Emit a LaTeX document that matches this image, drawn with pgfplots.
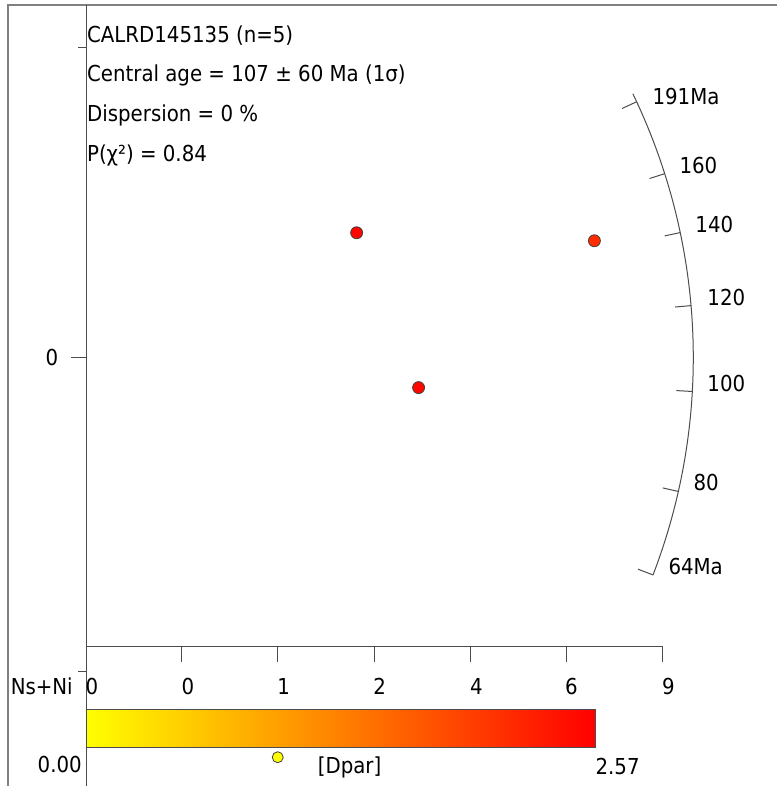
\documentclass[border=0pt]{standalone}
\usepackage{pgfplots}
\pgfplotsset{compat=1.18}
\usepackage{fontspec}
\setmainfont{DejaVu Sans Condensed}
\newcommand\f{\fontsize{22}{26}\selectfont}

\begin{document}
\begin{tikzpicture}
\begin{axis}[
  width=778pt, height=787pt, scale only axis,
  xmin=0, xmax=778, ymin=0, ymax=787,
  hide axis, clip=false,
  colormap={yr}{rgb255=(255,255,0) rgb255=(255,0,0)},
  point meta min=0, point meta max=2.57,
]
% page extent
\path (axis cs:0,0) rectangle (axis cs:778,787);
% outer frame
\draw[black!50, line width=1.6pt] (axis cs:8,0) -- (axis cs:8,782) -- (axis cs:778,782);
% vertical axis
\draw[black!70, line width=1pt] (axis cs:87,782) -- (axis cs:87,0);
\draw[black!70, line width=1pt] (axis cs:78,739) -- (axis cs:87,739);
\draw[black!70, line width=1pt] (axis cs:71,429) -- (axis cs:87,429);
\draw[black!70, line width=1pt] (axis cs:78,115) -- (axis cs:87,115);
\node[font=\f, text=black] at (axis cs:52,429) {0};
% horizontal axis
\draw[black!70, line width=1pt] (axis cs:87,140) -- (axis cs:663,140);
\draw[black!70, line width=1pt] (axis cs:182,140) -- (axis cs:182,124);
\draw[black!70, line width=1pt] (axis cs:278,140) -- (axis cs:278,124);
\draw[black!70, line width=1pt] (axis cs:375,140) -- (axis cs:375,124);
\draw[black!70, line width=1pt] (axis cs:471,140) -- (axis cs:471,124);
\draw[black!70, line width=1pt] (axis cs:567,140) -- (axis cs:567,124);
\draw[black!70, line width=1pt] (axis cs:663,140) -- (axis cs:663,124);
\node[font=\f] at (axis cs:92,100) {0};
\node[font=\f] at (axis cs:188,100) {0};
\node[font=\f] at (axis cs:284,100) {1};
\node[font=\f] at (axis cs:380,100) {2};
\node[font=\f] at (axis cs:477,100) {4};
\node[font=\f] at (axis cs:572,100) {6};
\node[font=\f] at (axis cs:669,100) {9};
\node[font=\f, anchor=east, inner sep=0pt] at (axis cs:73,100) {Ns+Ni};
% header text
\node[font=\f, anchor=base west, inner sep=0pt] at (axis cs:87,744) {CALRD145135 (n=5)};
\node[font=\f, anchor=base west, inner sep=0pt] at (axis cs:87,705) {Central age = 107 ± 60 Ma (1σ)};
\node[font=\f, anchor=base west, inner sep=0pt] at (axis cs:87,665) {Dispersion = 0 \%};
\node[font=\f, anchor=base west, inner sep=0pt] at (axis cs:87,625) {P(χ²) = 0.84};
% radial age scale
\draw[black!70, line width=1pt] (axis cs:87,429) ++(-21:607pt) arc[start angle=-21, end angle=25.8, radius=607pt];
\draw[black!70, line width=1pt] (axis cs:87,429) ++(24.96:591pt) -- ++(24.96:16pt);
\draw[black!70, line width=1pt] (axis cs:87,429) ++(17.66:591pt) -- ++(17.66:16pt);
\draw[black!70, line width=1pt] (axis cs:87,429) ++(11.9:591pt) -- ++(11.9:16pt);
\draw[black!70, line width=1pt] (axis cs:87,429) ++(4.92:591pt) -- ++(4.92:16pt);
\draw[black!70, line width=1pt] (axis cs:87,429) ++(-3.2:591pt) -- ++(-3.2:16pt);
\draw[black!70, line width=1pt] (axis cs:87,429) ++(-12.75:591pt) -- ++(-12.75:16pt);
\draw[black!70, line width=1pt] (axis cs:87,429) ++(-21:591pt) -- ++(-21:16pt);
\node[font=\f, anchor=west, inner sep=0pt] at (axis cs:653,690) {191Ma};
\node[font=\f, anchor=west, inner sep=0pt] at (axis cs:680,621) {160};
\node[font=\f, anchor=west, inner sep=0pt] at (axis cs:696,562) {140};
\node[font=\f, anchor=west, inner sep=0pt] at (axis cs:708,489) {120};
\node[font=\f, anchor=west, inner sep=0pt] at (axis cs:708,403) {100};
\node[font=\f, anchor=west, inner sep=0pt] at (axis cs:694,304) {80};
\node[font=\f, anchor=west, inner sep=0pt] at (axis cs:669,220) {64Ma};
% data points (x, y, Dpar)
\addplot[scatter, only marks, mark=*, mark size=6pt, point meta=explicit,
  scatter/use mapped color={draw=black!75, fill=mapped color}, mark options={line width=0.8pt}]
  coordinates {(357,554) [2.50] (595,546) [2.10] (419,399) [2.48]};
% Dpar colour bar
\shadedraw[left color=yellow, right color=red, draw=black!70, line width=1pt] (axis cs:87,39) rectangle (axis cs:596,77);
\node[font=\f, anchor=east, inner sep=0pt] at (axis cs:82,22) {0.00};
\node[font=\f, anchor=west, inner sep=0pt] at (axis cs:596,20) {2.57};
\node[font=\f, anchor=west, inner sep=0pt] at (axis cs:318,19) {[Dpar]};
\addplot[scatter, only marks, mark=*, mark size=5.5pt, point meta=explicit,
  scatter/use mapped color={draw=black!75, fill=mapped color}, mark options={line width=0.8pt}]
  coordinates {(278,29) [0]};
\end{axis}
\end{tikzpicture}
\end{document}
